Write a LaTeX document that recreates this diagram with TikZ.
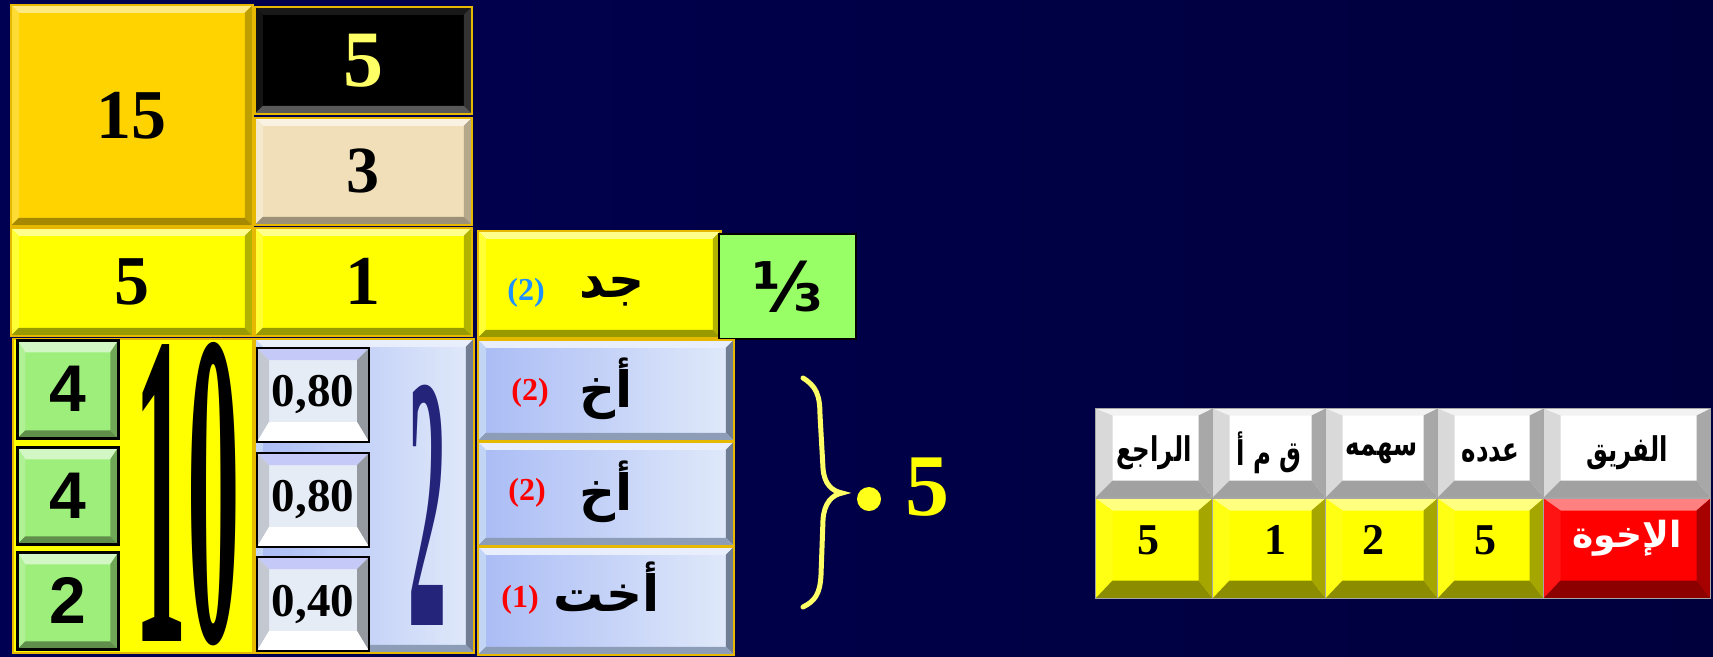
\documentclass[tikz,border=0pt]{standalone}
\usepackage{fontspec}
\usepackage{graphicx}
\setmainfont{Liberation Serif}
\newfontfamily\sansfont{Liberation Sans}
\newfontfamily\fracfont{DejaVu Sans}
\newfontfamily\arabicfont[Script=Arabic]{DejaVu Sans}
\TeXXeTstate=1
\newcommand{\fsize}[1]{\fontsize{#1}{#1}\selectfont}
\newcommand{\narrow}[1]{\scalebox{0.72}[1]{#1}}

\definecolor{bgleft}{HTML}{000052}
\definecolor{bgmid}{HTML}{00002F}
\definecolor{bgright}{HTML}{00003D}
\definecolor{gold15}{HTML}{FFD300}
\definecolor{goldline}{HTML}{E6B800}
\definecolor{yel}{HTML}{FFFF00}
\definecolor{lyel}{HTML}{FFFF66}
\definecolor{paper}{HTML}{F0DFB8}
\definecolor{lgreen}{HTML}{9EEE7C}
\definecolor{third}{HTML}{99FF66}
\definecolor{lblue}{HTML}{BCD0F4}
\definecolor{pale}{HTML}{E6ECF6}
\definecolor{navytwo}{HTML}{24247A}
\definecolor{pblue}{HTML}{1E90FF}
\definecolor{pred}{HTML}{FF0000}

\tikzset{
  bevl/.store in=\bevL, bevt/.store in=\bevT,
  bevr/.store in=\bevR, bevb/.store in=\bevB,
  bevl=8pt, bevt=8pt, bevr=8pt, bevb=8pt,
  bevel/.style n args={4}{path picture={
    \coordinate (pnw) at (path picture bounding box.north west);
    \coordinate (pne) at (path picture bounding box.north east);
    \coordinate (psw) at (path picture bounding box.south west);
    \coordinate (pse) at (path picture bounding box.south east);
    \coordinate (qnw) at ([shift={(\bevL,-\bevT)}]pnw);
    \coordinate (qne) at ([shift={(-\bevR,-\bevT)}]pne);
    \coordinate (qsw) at ([shift={(\bevL,\bevB)}]psw);
    \coordinate (qse) at ([shift={(-\bevR,\bevB)}]pse);
    \fill[#1] (pnw) -- (pne) -- (qne) -- (qnw) -- cycle;
    \fill[#2] (pnw) -- (qnw) -- (qsw) -- (psw) -- cycle;
    \fill[#3] (pne) -- (qne) -- (qse) -- (pse) -- cycle;
    \fill[#4] (psw) -- (qsw) -- (qse) -- (pse) -- cycle;
  }}
}

\begin{document}
\begin{tikzpicture}[x=1pt, y=-1pt,
    box/.style={anchor=north west, inner sep=0pt, line width=1.5pt, draw=goldline, font=\bfseries},
    goldbox/.style={box, fill=gold15, bevel={gold15!50!white}{gold15!80!white}{gold15!75!black}{gold15!65!black}},
    blackbox/.style={box, fill=black, bevel={black!90!white}{black!92!white}{black!80!white}{black!65!white}},
    paperbox/.style={box, fill=paper, bevel={paper!40!white}{paper!70!white}{paper!75!black}{paper!65!black}},
    yelbox/.style={box, fill=yel, bevel={yel!45!white}{yel!80!white}{yel!70!black}{yel!60!black}},
    greenbox/.style={box, draw=black, line width=2.5pt, fill=lgreen, bevt=12pt,
      bevel={lgreen!45!white}{lgreen!80!white}{lgreen!70!black}{lgreen!60!black}},
    numbox/.style={box, draw=black, line width=2pt, fill=pale, bevl=12pt, bevt=12pt, bevr=12pt, bevb=20pt,
      bevel={pale!85!blue}{pale!85!black}{pale!65!black}{white}},
    bluebox/.style={box, left color=lblue!90!blue, right color=lblue!45!white,
      bevel={lblue!35!white}{lblue!90!white}{lblue!60!black}{lblue!75!black}},
    headcell/.style={box, draw=gray!70, line width=1pt, fill=white, font=\arabicfont\bfseries\fsize{34},
      bevl=17pt, bevt=7pt, bevr=14pt, bevb=17pt, bevel={white!95!black}{white!85!black}{white!66!black}{white!63!black}},
    valcell/.style={box, draw=gray!70, line width=1pt, fill=#1,
      bevl=17pt, bevt=12pt, bevr=14pt, bevb=18pt, bevel={#1!50!white}{#1!92!white}{#1!65!black}{#1!55!black}},
    txt/.style={inner sep=0pt, font=\bfseries},
    artxt/.style={inner sep=0pt, font=\arabicfont\bfseries\fsize{50}}
]
    \shade[left color=bgleft, middle color=bgmid, right color=bgright] (0,0) rectangle (1713,656);
    \useasboundingbox (0,0) rectangle (1713,656);

    % upper left block
    \node[goldbox, minimum width=242, minimum height=221, font=\bfseries\fsize{70}] (b15) at (10,4) {15};
    \node[blackbox, minimum width=217, minimum height=107, text=lyel, font=\bfseries\fsize{80}] (bsum) at (254,6) {5};
    \node[paperbox, minimum width=217, minimum height=107, font=\bfseries\fsize{66}] (bshare) at (254,117) {3};
    \node[yelbox, minimum width=242, minimum height=108, font=\bfseries\fsize{70}] (bcount) at (10,227) {5};
    \node[yelbox, minimum width=217, minimum height=108, font=\bfseries\fsize{70}] (bone) at (254,227) {1};

    % lower left block
    \node[box, fill=yel, minimum width=240, minimum height=314] (bten) at (12,338) {};
    \node[greenbox, minimum width=101, minimum height=98, font=\sansfont\bfseries\fsize{66}] (g1) at (16,339) {4};
    \node[greenbox, minimum width=101, minimum height=97, font=\sansfont\bfseries\fsize{66}] (g2) at (16,446) {4};
    \node[greenbox, minimum width=101, minimum height=97, font=\sansfont\bfseries\fsize{66}] (g3) at (16,551) {2};
    \node[txt] (ten) at (187,494) {\resizebox{105pt}{298pt}{10}};

    \node[bluebox, minimum width=219, minimum height=314] (bblue) at (254,338) {};
    \node[numbox, minimum width=112, minimum height=94, font=\bfseries\fsize{47}] (d1) at (256,347) {0,80};
    \node[numbox, minimum width=112, minimum height=94, font=\bfseries\fsize{47}] (d2) at (256,452) {0,80};
    \node[numbox, minimum width=112, minimum height=94, font=\bfseries\fsize{47}] (d3) at (256,556) {0,40};
    \node[txt, text=navytwo] (two) at (427,505) {\resizebox{38pt}{240pt}{2}};

    % heirs
    \node[yelbox, minimum width=243, minimum height=107] (bjad) at (477,230) {};
    \node[box, draw=black, line width=2pt, fill=third, minimum width=137, minimum height=105,
      font=\fracfont\bfseries\fsize{68}] (bthird) at (718,233) {⅓};
    \node[artxt] (jad) at (612,291) {\beginR جد\endR};
    \node[txt, text=pblue, font=\bfseries\fsize{32}] (njad) at (526,293) {(2)};

    \node[bluebox, minimum width=256, minimum height=101] (akh1) at (477,339) {};
    \node[bluebox, minimum width=256, minimum height=104] (akh2) at (477,441) {};
    \node[bluebox, minimum width=256, minimum height=108] (ukht) at (477,546) {};
    \node[artxt] (takh1) at (606,389) {\beginR أخ\endR};
    \node[artxt] (takh2) at (606,492) {\beginR أخ\endR};
    \node[artxt] (tukht) at (607,587) {\beginR أخت\endR};
    \node[txt, text=pred, font=\bfseries\fsize{32}] (nakh1) at (530,393) {(2)};
    \node[txt, text=pred, font=\bfseries\fsize{32}] (nakh2) at (527,493) {(2)};
    \node[txt, text=pred, font=\bfseries\fsize{32}] (nukht) at (520,600) {(1)};

    \draw[lyel, line width=5pt, line cap=round] (803,378) .. controls (816,386) and (820,395) .. (820,415)
      -- (823,468) .. controls (824,484) and (832,491) .. (842,493)
      .. controls (832,495) and (824,503) .. (823,520) -- (821,575)
      .. controls (820,594) and (815,601) .. (803,607);
    \node[circle, fill=yel!90!white, minimum size=24, inner sep=0pt] (dot) at (869,499) {};
    \node[txt, text=yel, font=\bfseries\fsize{88}] (total) at (927,487) {5};

    % table
    \node[headcell, minimum width=117, minimum height=89] (h1) at (1095,408) {\narrow{\beginR الراجع\endR}};
    \node[headcell, minimum width=113, minimum height=89] (h2) at (1212,408) {\narrow{\beginR ق م أ\endR}};
    \node[headcell, minimum width=112, minimum height=89] (h3) at (1325,408) {\narrow{\beginR سهمه\endR}};
    \node[headcell, minimum width=106, minimum height=89] (h4) at (1437,408) {\narrow{\beginR عدده\endR}};
    \node[headcell, minimum width=167, minimum height=89] (h5) at (1543,408) {\narrow{\beginR الفريق\endR}};

    \node[valcell=yel, minimum width=117, minimum height=100] (v1) at (1095,498) {};
    \node[valcell=yel, minimum width=113, minimum height=100] (v2) at (1212,498) {};
    \node[valcell=yel, minimum width=112, minimum height=100] (v3) at (1325,498) {};
    \node[valcell=yel, minimum width=106, minimum height=100] (v4) at (1437,498) {};
    \node[valcell=pred, minimum width=167, minimum height=100] (v5) at (1543,498) {};
    \node[txt, font=\bfseries\fsize{44}] (tv1) at (1148,540) {5};
    \node[txt, font=\bfseries\fsize{44}] (tv2) at (1275,540) {1};
    \node[txt, font=\bfseries\fsize{44}] (tv3) at (1373,540) {2};
    \node[txt, font=\bfseries\fsize{44}] (tv4) at (1485,540) {5};
    \node[inner sep=0pt, text=white, font=\arabicfont\bfseries\fsize{36}] (tv5) at (1627,538) {\beginR الإخوة\endR};
\end{tikzpicture}
\end{document}
